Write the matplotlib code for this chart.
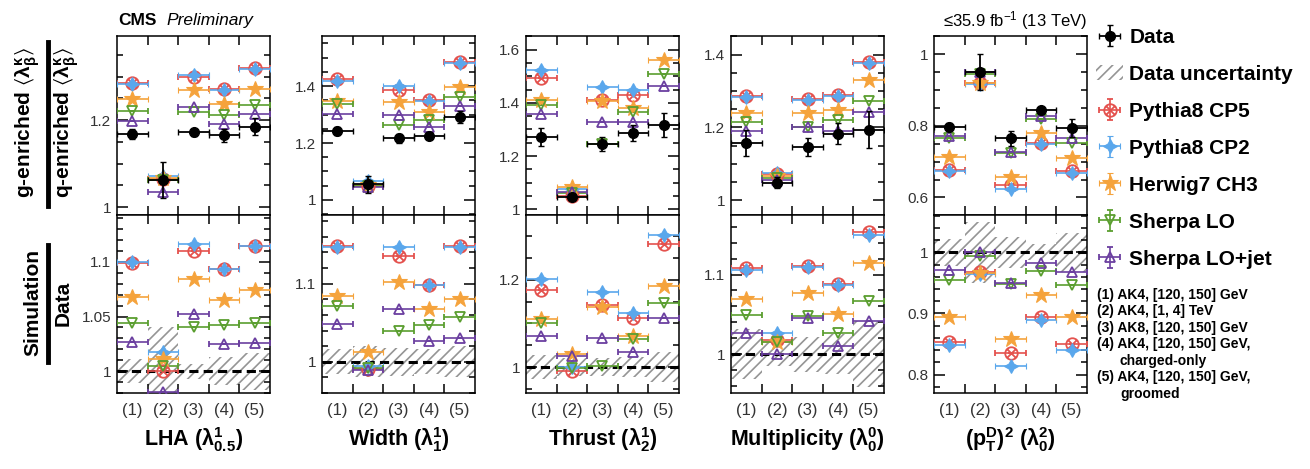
import numpy as np
import matplotlib.pyplot as plt
from matplotlib.lines import Line2D
from matplotlib.patches import Patch
from matplotlib.path import Path
from matplotlib.ticker import MultipleLocator, FixedLocator, FuncFormatter

plt.rcParams['font.family'] = ['Liberation Sans', 'DejaVu Sans']
plt.rcParams['mathtext.fontset'] = 'custom'
plt.rcParams['mathtext.rm'] = 'Liberation Sans'
plt.rcParams['mathtext.it'] = 'Liberation Sans:italic'
plt.rcParams['mathtext.bf'] = 'Liberation Sans:bold'
plt.rcParams['mathtext.default'] = 'regular'
plt.rcParams['hatch.linewidth'] = 1.2

categories = ['(1)', '(2)', '(3)', '(4)', '(5)']
generators = ['Pythia8 CP5', 'Pythia8 CP2', 'Herwig7 CH3', 'Sherpa LO', 'Sherpa LO+jet']
notes = ['(1) AK4, [120, 150] GeV', '(2) AK4, [1, 4] TeV', '(3) AK8, [120, 150] GeV',
         '(4) AK4, [120, 150] GeV,', 'charged-only', '(5) AK4, [120, 150] GeV,', 'groomed']

# gluon/quark ratio of the means, per category (1)..(5)
# mc lists are in the order of `generators`
lha_data = [1.168, 1.062, 1.172, 1.165, 1.185]
lha_err = [0.012, 0.042, 0.008, 0.015, 0.020]
lha_mc = [[1.285, 1.065, 1.300, 1.271, 1.319],
          [1.283, 1.072, 1.303, 1.270, 1.318],
          [1.248, 1.067, 1.269, 1.238, 1.271],
          [1.221, 1.062, 1.219, 1.212, 1.235],
          [1.198, 1.035, 1.229, 1.191, 1.214]]
lha_ratio = [[1.099, 1.000, 1.110, 1.094, 1.115],
             [1.100, 1.018, 1.116, 1.094, 1.115],
             [1.068, 1.011, 1.084, 1.065, 1.074],
             [1.044, 1.005, 1.040, 1.042, 1.044],
             [1.027, 0.981, 1.052, 1.025, 1.026]]
lha_band = [0.011, 0.040, 0.007, 0.013, 0.017]

width_data = [1.242, 1.055, 1.216, 1.225, 1.292]
width_err = [0.015, 0.030, 0.015, 0.012, 0.022]
width_mc = [[1.424, 1.048, 1.388, 1.351, 1.485],
            [1.418, 1.066, 1.400, 1.349, 1.482],
            [1.347, 1.052, 1.345, 1.310, 1.398],
            [1.336, 1.050, 1.265, 1.281, 1.363],
            [1.301, 1.047, 1.300, 1.257, 1.330]]
width_ratio = [[1.148, 0.991, 1.136, 1.098, 1.148],
               [1.147, 0.995, 1.147, 1.098, 1.147],
               [1.084, 1.012, 1.102, 1.068, 1.080],
               [1.072, 0.992, 1.040, 1.047, 1.057],
               [1.048, 0.990, 1.068, 1.026, 1.031]]
width_band = [0.016, 0.020, 0.018, 0.016, 0.020]

thrust_data = [1.272, 1.047, 1.245, 1.285, 1.316]
thrust_err = [0.035, 0.012, 0.025, 0.030, 0.045]
thrust_mc = [[1.495, 1.050, 1.412, 1.429, 1.690],
             [1.525, 1.075, 1.460, 1.450, 1.720],
             [1.410, 1.085, 1.408, 1.379, 1.560],
             [1.391, 1.060, 1.247, 1.366, 1.510],
             [1.360, 1.065, 1.329, 1.329, 1.462]]
thrust_ratio = [[1.177, 0.991, 1.142, 1.112, 1.282],
                [1.201, 1.000, 1.173, 1.125, 1.303],
                [1.110, 1.031, 1.138, 1.071, 1.185],
                [1.100, 0.998, 1.002, 1.065, 1.147],
                [1.072, 1.025, 1.067, 1.034, 1.112]]
thrust_band = [0.027, 0.020, 0.020, 0.023, 0.034]

mult_data = [1.157, 1.048, 1.146, 1.183, 1.194]
mult_err = [0.037, 0.015, 0.025, 0.030, 0.050]
mult_mc = [[1.286, 1.073, 1.277, 1.288, 1.380],
           [1.284, 1.075, 1.276, 1.287, 1.376],
           [1.240, 1.065, 1.238, 1.247, 1.330],
           [1.215, 1.060, 1.201, 1.220, 1.273],
           [1.189, 1.055, 1.200, 1.190, 1.243]]
mult_ratio = [[1.108, 1.018, 1.111, 1.088, 1.153],
              [1.106, 1.027, 1.110, 1.087, 1.150],
              [1.069, 1.015, 1.077, 1.050, 1.114],
              [1.049, 1.015, 1.048, 1.027, 1.067],
              [1.027, 1.000, 1.046, 1.010, 1.042]]
mult_band = [0.032, 0.015, 0.022, 0.025, 0.042]

ptd_data = [0.797, 0.951, 0.765, 0.844, 0.795]
ptd_err = [0.012, 0.050, 0.020, 0.010, 0.025]
ptd_mc = [[0.678, 0.920, 0.634, 0.753, 0.674],
          [0.675, 0.918, 0.625, 0.749, 0.669],
          [0.7135, 0.920, 0.658, 0.780, 0.709],
          [0.765, 0.944, 0.723, 0.820, 0.753],
          [0.772, 0.950, 0.727, 0.827, 0.767]]
ptd_ratio = [[0.853, 0.967, 0.835, 0.894, 0.850],
             [0.848, 0.965, 0.814, 0.890, 0.840],
             [0.894, 0.966, 0.858, 0.930, 0.894],
             [0.955, 0.994, 0.949, 0.969, 0.947],
             [0.971, 1.001, 0.950, 0.982, 0.967]]
ptd_band = [0.022, 0.050, 0.025, 0.013, 0.032]

panels = [
    (r'LHA ($\lambda^{1}_{0.5}$)', lha_data, lha_err, lha_mc, lha_ratio, lha_band),
    (r'Width ($\lambda^{1}_{1}$)', width_data, width_err, width_mc, width_ratio, width_band),
    (r'Thrust ($\lambda^{1}_{2}$)', thrust_data, thrust_err, thrust_mc, thrust_ratio, thrust_band),
    (r'Multiplicity ($\lambda^{0}_{0}$)', mult_data, mult_err, mult_mc, mult_ratio, mult_band),
    (r'$(p^{D}_{T})^{2}$ ($\lambda^{2}_{0}$)', ptd_data, ptd_err, ptd_mc, ptd_ratio, ptd_band),
]

# axis ranges and tick steps
top_lims = [(0.982, 1.393), (0.947, 1.576), (0.979, 1.651), (0.959, 1.451), (0.551, 1.051)]
bot_lims = [(0.980, 1.143), (0.960, 1.188), (0.941, 1.348), (0.951, 1.175), (0.770, 1.061)]
bot_major = [0.05, 0.1, 0.2, 0.1, 0.1]
bot_minor = [0.01, 0.02, 0.05, 0.02, 0.02]

# circle with a cross for CP5
d = 0.7071
cross = Path([(-d, -d), (d, d), (-d, d), (d, -d)],
             [Path.MOVETO, Path.LINETO, Path.MOVETO, Path.LINETO])
otimes = Path.make_compound_path(Path.unit_circle(), cross)

styles = [
    dict(marker=otimes, color='#e4524e', ms=9, mfc='none', mew=1.3),
    dict(marker=(4, 1, 0), color='#5aa7ec', ms=10, mfc='#5aa7ec', mew=0.8),
    dict(marker='*', color='#f5a33c', ms=12, mfc='#f5a33c', mew=0.8),
    dict(marker='v', color='#5a9e2f', ms=7.5, mfc='none', mew=1.3),
    dict(marker='^', color='#6b3fa0', ms=7.5, mfc='none', mew=1.3),
]
hatch_color = '#959595'

W, H = 1310, 469
fig = plt.figure(figsize=(W / 100, H / 100), dpi=100)
x = np.arange(1, 6)
lefts = [117, 322, 526, 731, 934]
fmt = FuncFormatter(lambda v, p: f'{v:g}')


def style_axes(ax):
    ax.set_xlim(0.5, 5.5)
    ax.xaxis.set_major_locator(FixedLocator(x))
    ax.xaxis.set_minor_locator(FixedLocator(x[:-1] + 0.5))
    ax.tick_params(axis='x', which='major', length=0, pad=7, labelsize=12, labelcolor='#333333')
    ax.tick_params(axis='x', which='minor', direction='in', length=6.5, width=1.1,
                   top=True, bottom=True)
    ax.tick_params(axis='y', which='both', direction='in', left=True, right=True,
                   width=1.1, labelsize=11, labelcolor='#333333')
    ax.tick_params(axis='y', which='major', length=8, pad=4)
    ax.tick_params(axis='y', which='minor', length=4.5)
    ax.yaxis.set_major_formatter(fmt)
    for s in ax.spines.values():
        s.set_linewidth(1.1)


def draw_mc(ax, values, st):
    return ax.errorbar(x, values, xerr=0.5, yerr=np.zeros(5), ls='none', marker=st['marker'],
                       ms=st['ms'], color=st['color'], mfc=st['mfc'], mew=st['mew'],
                       elinewidth=1.2, capsize=2, zorder=3)


handles = []
for i, (label, data, err, mc, ratio, band) in enumerate(panels):
    ax_top = fig.add_axes([lefts[i] / W, 1 - 215 / H, 153 / W, 179 / H])
    ax_bot = fig.add_axes([lefts[i] / W, 1 - 393 / H, 153 / W, 178 / H])
    style_axes(ax_top)
    style_axes(ax_bot)

    mc_handles = []
    for g, st in enumerate(styles):
        mc_handles.append(draw_mc(ax_top, mc[g], st))
        draw_mc(ax_bot, ratio[g], st)
    hd = ax_top.errorbar(x, data, xerr=0.5, yerr=err, fmt='o', color='black', ms=7,
                         elinewidth=1.3, capsize=2.5, zorder=5)

    band = np.array(band)
    ax_bot.bar(x, 2 * band, bottom=1 - band, width=1.0, fill=False,
               hatch='///', edgecolor=hatch_color, linewidth=0, zorder=1)
    ax_bot.axhline(1, color='black', lw=2.2, ls=(0, (3, 1.7)), zorder=2)

    ax_top.set_ylim(*top_lims[i])
    ax_top.yaxis.set_major_locator(MultipleLocator(0.2))
    ax_top.yaxis.set_minor_locator(MultipleLocator(0.05))
    ax_top.tick_params(axis='x', labelbottom=False)

    ax_bot.set_ylim(*bot_lims[i])
    ax_bot.yaxis.set_major_locator(MultipleLocator(bot_major[i]))
    ax_bot.yaxis.set_minor_locator(MultipleLocator(bot_minor[i]))
    ax_bot.set_xticklabels(categories)

    fig.text((lefts[i] + 76.5) / W, 1 - 440 / H, label, ha='center', va='center',
             fontsize=15.5, fontweight='bold')

    if i == 0:
        handles = [hd, Patch(facecolor='none', edgecolor=hatch_color, hatch='///', lw=0)]
        handles += mc_handles

fig.legend(handles, ['Data', 'Data uncertainty'] + generators, loc='upper left',
           bbox_to_anchor=(1096 / W, 1 - 28 / H), frameon=False,
           prop=dict(weight='bold', size=15), labelspacing=0.86, handlelength=1.3,
           handletextpad=0.3, borderpad=0, borderaxespad=0)

note_y = [295, 311, 328, 344, 361, 377, 394]
for txt, yy in zip(notes, note_y):
    xx = 1097 if txt.startswith('(') else 1120
    fig.text(xx / W, 1 - yy / H, txt, ha='left', va='center', fontsize=10, fontweight='bold')

fig.text(118 / W, 1 - 25 / H, 'CMS', ha='left', va='baseline', fontsize=12.5, fontweight='bold')
fig.text(166 / W, 1 - 25 / H, 'Preliminary', ha='left', va='baseline', fontsize=12.5,
         style='italic')
fig.text(1087 / W, 1 - 26 / H, r'≤35.9 fb$\mathregular{^{-1}}$ (13 TeV)', ha='right',
         va='baseline', fontsize=12)

# y axis titles written as fractions
fig.text(28 / W, 1 - 123 / H, r'g-enriched $\langle\lambda^{\kappa}_{\beta}\rangle$',
         rotation=90, ha='center', va='center', fontsize=15, fontweight='bold')
fig.text(67 / W, 1 - 123 / H, r'q-enriched $\langle\lambda^{\kappa}_{\beta}\rangle$',
         rotation=90, ha='center', va='center', fontsize=15, fontweight='bold')
fig.add_artist(Line2D([48 / W, 48 / W], [1 - 42 / H, 1 - 206 / H], color='black', lw=3.5))
fig.text(33 / W, 1 - 303 / H, 'Simulation', rotation=90, ha='center', va='center',
         fontsize=15, fontweight='bold')
fig.text(63 / W, 1 - 303 / H, 'Data', rotation=90, ha='center', va='center',
         fontsize=15, fontweight='bold')
fig.add_artist(Line2D([48 / W, 48 / W], [1 - 245 / H, 1 - 362 / H], color='black', lw=3.5))

fig.savefig('out.png', dpi=100)
